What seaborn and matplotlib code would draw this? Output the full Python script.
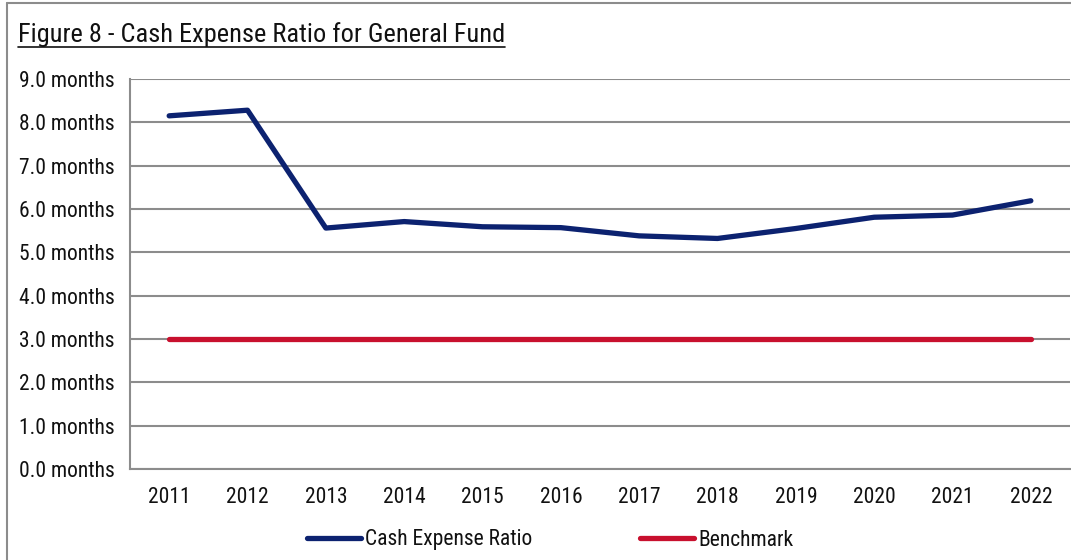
import matplotlib
matplotlib.use("Agg")
import matplotlib.pyplot as plt
import seaborn as sns
import pandas as pd
import numpy as np
from matplotlib.lines import Line2D

years = ["2011", "2012", "2013", "2014", "2015", "2016", "2017", "2018", "2019", "2020", "2021", "2022"]
cash_expense_ratio = [8.15, 8.28, 5.56, 5.71, 5.59, 5.57, 5.38, 5.32, 5.55, 5.81, 5.86, 6.19]
benchmark = [3.0] * 12
y_ticks = [0, 1, 2, 3, 4, 5, 6, 7, 8, 9]
title = "Figure 8 - Cash Expense Ratio for General Fund"

sns.set_theme(style="white")
plt.rcParams['font.family'] = ['Roboto Condensed', 'Liberation Sans', 'DejaVu Sans']

df = pd.DataFrame({
    "Year": years * 2,
    "idx": list(range(len(years))) * 2,
    "Value": cash_expense_ratio + benchmark,
    "Series": ["Cash Expense Ratio"] * len(years) + ["Benchmark"] * len(years),
})

fig = plt.figure(figsize=(10.71, 5.60), dpi=100)
ax = fig.add_axes([130/1071, 1 - 469/560, (1070-130)/1071, (469-79)/560])

palette = {"Cash Expense Ratio": "#0C2270", "Benchmark": "#C8102E"}
sns.lineplot(data=df, x="idx", y="Value", hue="Series", palette=palette, ax=ax,
             linewidth=3.8, legend=False, solid_capstyle="round", sort=False)

txt_color = "#111111"
fs = 15.5
ax.set_xlim(-0.5, len(years) - 0.5)
ax.set_ylim(0, 9)
ax.set_yticks(y_ticks)
ax.set_yticklabels([f"{v:.1f} months" for v in y_ticks], fontsize=fs, color=txt_color)
ax.set_xticks(range(len(years)))
ax.set_xticklabels(years, fontsize=fs, color=txt_color)
ax.set_xticks(np.arange(-0.5, len(years)), minor=True)
ax.tick_params(axis="x", which="major", length=0, pad=13)
ax.tick_params(axis="x", which="minor", length=7, width=1.5, color="#8c8c8c", direction="out")
ax.tick_params(axis="y", which="major", length=7, width=1.5, color="#8c8c8c", direction="out", pad=4)
ax.set_xlabel("")
ax.set_ylabel("")
ax.grid(axis="y", color="#8c8c8c", linewidth=1.5)
ax.set_axisbelow(True)
for s in ["top", "right"]:
    ax.spines[s].set_visible(False)
for s in ["left", "bottom"]:
    ax.spines[s].set_color("#8c8c8c")
    ax.spines[s].set_linewidth(1.5)

# Legend
handles = [Line2D([0], [0], color=palette["Cash Expense Ratio"], lw=3.8, solid_capstyle="round"),
           Line2D([0], [0], color=palette["Benchmark"], lw=3.8, solid_capstyle="round")]
leg = fig.legend(handles, ["Cash Expense Ratio", "Benchmark"], loc="center", bbox_to_anchor=(550/1071, 1 - 540/560),
                 ncol=2, frameon=False, fontsize=fs, handlelength=2.5, handletextpad=0.2, columnspacing=5.0)
for t in leg.get_texts():
    t.set_color(txt_color)

# Title with underline
t = fig.text(18/1071, 1 - 35/560, title, fontsize=19, ha="left", va="center", color=txt_color)
fig.canvas.draw()
bb = t.get_window_extent(renderer=fig.canvas.get_renderer()).transformed(fig.transFigure.inverted())
fig.add_artist(Line2D([bb.x0, bb.x1], [bb.y0 + 0.001, bb.y0 + 0.001], color=txt_color, lw=1.2, transform=fig.transFigure))

# Outer frame (left and top visible)
fig.add_artist(Line2D([7/1071, 7/1071], [0, 1 - 3/560], color="#8c8c8c", lw=1.5, transform=fig.transFigure))
fig.add_artist(Line2D([7/1071, 1], [1 - 3/560, 1 - 3/560], color="#8c8c8c", lw=1.5, transform=fig.transFigure))

fig.savefig("out.png", dpi=100)
